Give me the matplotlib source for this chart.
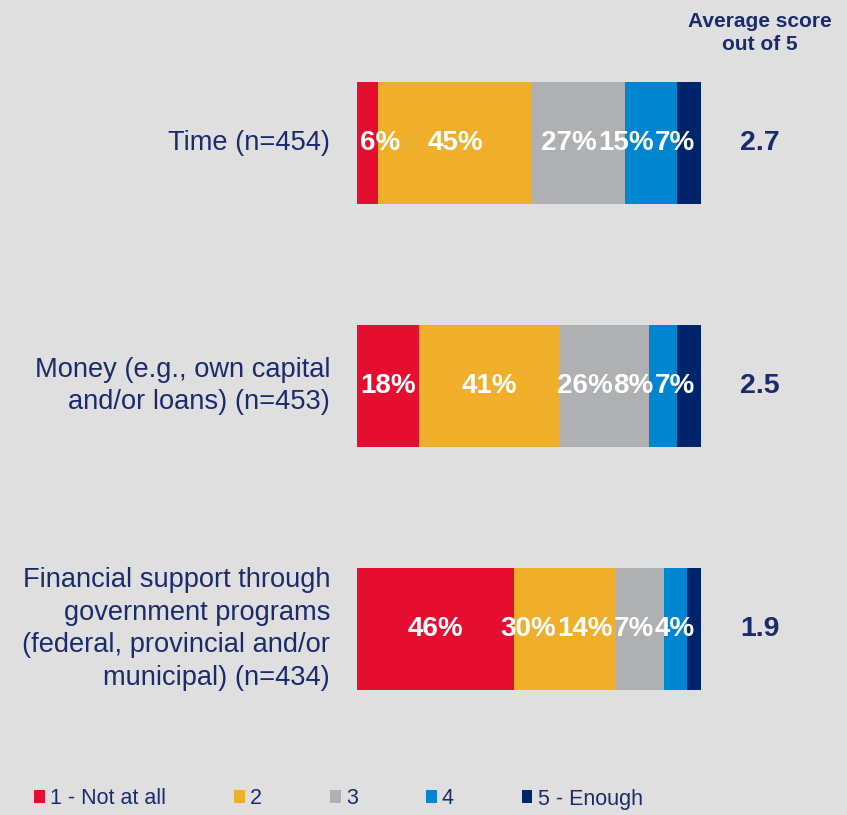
import matplotlib.pyplot as plt
from matplotlib.patches import Patch
import numpy as np

plt.rcParams['font.family'] = ['Liberation Sans', 'DejaVu Sans']

# data
categories = ["Time (n=454)",
              "Money (e.g., own capital\nand/or loans) (n=453)",
              "Financial support through\ngovernment programs\n(federal, provincial and/or\nmunicipal) (n=434)"]
levels = ["1 - Not at all", "2", "3", "4", "5 - Enough"]
pct = np.array([[6, 45, 27, 15, 7],
                [18, 41, 26, 8, 7],
                [46, 30, 14, 7, 4]], dtype=float)
avg_score = ["2.7", "2.5", "1.9"]

colors = ["#E60E30", "#F0AF2B", "#AFB0B2", "#0086D1", "#00246B"]
navy = "#1A2B6D"
bg = "#DFDFDF"

fig = plt.figure(figsize=(8.47, 8.15), dpi=100, facecolor=bg)
W, H = 847, 815
ax = fig.add_axes([357 / W, 1 - 750.5 / H, 344 / W, 729 / H])
ax.set_facecolor(bg)
ax.axis('off')
ax.set_xlim(0, 100)
ax.set_ylim(len(categories) - 0.5, -0.5)

# normalise each row so the bar fills 100
widths = pct / pct.sum(axis=1, keepdims=True) * 100
y = np.arange(len(categories))
left = np.zeros(len(categories))
labels = [[None] * len(levels) for _ in categories]
for j, lev in enumerate(levels):
    ax.barh(y, widths[:, j], left=left, height=0.5, color=colors[j],
            edgecolor='none', label=lev)
    for i in range(len(categories)):
        labels[i][j] = ax.text(left[i] + widths[i, j] / 2, y[i],
                               f"{pct[i, j]:.0f}%", ha='center', va='center',
                               color='white', fontsize=20, fontweight='bold')
    left += widths[:, j]

# push crowded labels left from the bar end, like the original layout
fig.canvas.draw()
renderer = fig.canvas.get_renderer()
to_px = ax.transData
x_start = to_px.transform((0, 0))[0]
x_end = to_px.transform((100, 0))[0]
for i in range(len(categories)):
    limit = x_end - 6
    for j in reversed(range(len(levels))):
        t = labels[i][j]
        bb = t.get_window_extent(renderer)
        shift = max(0.0, bb.x1 - limit)
        cx = (bb.x0 + bb.x1) / 2 - shift
        t.set_x(to_px.inverted().transform((cx, 0))[0])
        limit = bb.x0 - shift - 1
    # keep the first label inside the bar start
    t = labels[i][0]
    bb = t.get_window_extent(renderer)
    if bb.x0 < x_start + 3:
        cx = (bb.x0 + bb.x1) / 2 + (x_start + 3 - bb.x0)
        t.set_x(to_px.inverted().transform((cx, 0))[0])

for i, cat in enumerate(categories):
    ax.text(-7.8, y[i], cat, ha='right', va='center', color=navy,
            fontsize=19.6, linespacing=1.33, clip_on=False)
    ax.text(117.2, y[i], avg_score[i], ha='center', va='center',
            color=navy, fontsize=20.5, fontweight='bold', clip_on=False)

fig.text(760 / W, 1 - 33 / H, "Average score\nout of 5", ha='center',
         va='center', color=navy, fontsize=15, fontweight='bold',
         linespacing=1.3)

handles = [Patch(facecolor=c, edgecolor='none') for c in colors]
fig.legend(handles, levels, loc='center left',
           bbox_to_anchor=(34 / W, 1 - 799 / H), ncol=5, frameon=False,
           fontsize=15.5, labelcolor=navy, handlelength=0.5,
           handleheight=0.55, handletextpad=0.25, columnspacing=3.15,
           borderpad=0, borderaxespad=0)

fig.savefig("out.png", dpi=100, facecolor=bg)
